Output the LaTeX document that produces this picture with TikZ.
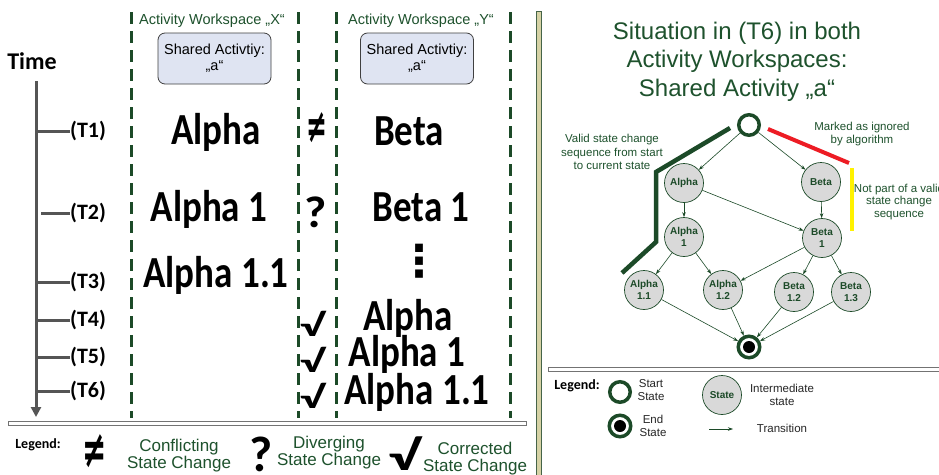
\documentclass[tikz,border=0pt]{standalone}
\usepackage{fontspec}
\usepackage{graphicx}
\setmainfont{Liberation Sans}
\newfontfamily\calfont{Carlito}
\newfontfamily\dejafont{DejaVu Sans}
\usetikzlibrary{arrows.meta}
\definecolor{dkgreen}{RGB}{28,74,40}
\definecolor{txtgreen}{RGB}{30,82,45}
\definecolor{nodefill}{RGB}{217,217,217}
\definecolor{boxfill}{RGB}{223,228,242}
\definecolor{axisgray}{RGB}{85,85,85}
\definecolor{divfill}{RGB}{214,210,165}
\definecolor{divline}{RGB}{70,100,72}
\definecolor{ignred}{RGB}{237,28,36}
\definecolor{notyellow}{RGB}{255,242,0}
\newcommand\tallbox[1]{\scalebox{1}[1.2]{#1}}
\tikzset{
  bigtxt/.style={font=\calfont\bfseries\fontsize{37}{40}\selectfont, inner sep=0pt, anchor=base},
  symtxt/.style={font=\calfont\bfseries\fontsize{37}{40}\selectfont, inner sep=0pt},
  hdr/.style={font=\fontsize{14.5}{16}\selectfont, text=txtgreen, inner sep=0pt},
  sharebox/.style={draw=black!75, fill=boxfill, rounded corners=7pt, minimum width=113pt, minimum height=51pt, align=center, font=\fontsize{14.5}{16}\selectfont, line width=0.8pt, inner sep=0pt},
  tlbl/.style={font=\calfont\bfseries\fontsize{22}{24}\selectfont, anchor=west, inner sep=0pt},
  axis/.style={draw=axisgray, line width=3pt},
  wsline/.style={draw=dkgreen, line width=3pt, dash pattern=on 12pt off 7pt},
  legtitle/.style={font=\calfont\bfseries\fontsize{14}{16}\selectfont, inner sep=0pt},
  leggreen/.style={font=\fontsize{17}{17}\selectfont, text=txtgreen, align=center, inner sep=0pt},
  st/.style={circle, draw=dkgreen, fill=nodefill, line width=0.7pt, minimum size=39pt, inner sep=0pt, align=center, font=\bfseries\fontsize{10}{12.5}\selectfont, text=dkgreen},
  startst/.style={circle, draw=dkgreen, fill=white, line width=3.5pt, minimum size=20.5pt, inner sep=0pt},
  endst/.style={circle, draw=dkgreen, fill=white, line width=3.5pt, minimum size=21.5pt, inner sep=0pt},
  tr/.style={draw=dkgreen, line width=0.6pt, -{Stealth[length=5pt,width=3.5pt]}},
  lbl/.style={font=\fontsize{11.5}{13.5}\selectfont, text=txtgreen, align=center, inner sep=0pt},
  legtxt/.style={font=\fontsize{11.5}{13}\selectfont, align=center, inner sep=0pt, text=black!85},
}
\begin{document}
\begin{tikzpicture}[x=1pt,y=-1pt]
\useasboundingbox (0,0) rectangle (939,474);
\fill[white] (0,0) rectangle (939,474);
% divider
\draw[draw=divline, fill=divfill, line width=0.8pt] (536.5,11) rectangle (541.5,480);
% separators
\draw[draw=black!55, fill=white, line width=0.8pt] (8,421.5) rectangle (526,425.5);
\draw[draw=black!55, fill=white, line width=0.8pt] (548,367) rectangle (945,371);
% workspace dashed lines
\foreach \xx in {131,298,336,510} \draw[wsline] (\xx,12) -- (\xx,418);
% headers
\node[hdr] (hx) at (212,20.5) {Activity Workspace „X“};
\node[hdr] (hy) at (421,20.5) {Activity Workspace „Y“};
\node[sharebox] (bx) at (214.5,58.5) {Shared Activtiy:\\„a“};
\node[sharebox] (by) at (417,58.5) {Shared Activtiy:\\„a“};
% time axis
\node[font=\calfont\bfseries\fontsize{24}{26}\selectfont, inner sep=0pt] (time) at (32,61) {Time};
\coordinate (ttop) at (36,81);
\coordinate (tbot) at (36,417);
\draw[axis, -{Triangle[length=10pt,width=10pt]}] (ttop) -- (tbot);
\node[tlbl] (t1) at (70,131) {(T1)};
\node[tlbl] (t2) at (70,213) {(T2)};
\node[tlbl] (t3) at (70,282) {(T3)};
\node[tlbl] (t4) at (70,320) {(T4)};
\node[tlbl] (t5) at (70,357) {(T5)};
\node[tlbl] (t6) at (70,391) {(T6)};
\coordinate (a1) at (36,131); \coordinate (a2) at (41,213); \coordinate (a3) at (36,282);
\coordinate (a4) at (36,320); \coordinate (a5) at (36,357); \coordinate (a6) at (36,391);
\foreach \i in {1,...,6} \draw[axis] (a\i) -- (t\i.west);
% states
\node[bigtxt] (xa) at (216,144) {\tallbox{Alpha}};
\node[bigtxt] (ya) at (409,145) {\tallbox{Beta}};
\node[bigtxt] (xb) at (209,221) {\tallbox{Alpha 1}};
\node[bigtxt] (yb) at (421,221) {\tallbox{Beta 1}};
\node[bigtxt] (xc) at (216,287) {\tallbox{Alpha 1.1}};
\node[font=\dejafont\bfseries\fontsize{44}{46}\selectfont, inner sep=0pt] (ydots) at (419,261) {⋮};
\node[bigtxt] (yd) at (408,330) {\tallbox{Alpha}};
\node[bigtxt] (ye) at (407,366) {\tallbox{Alpha 1}};
\node[bigtxt] (yf) at (417,404) {\tallbox{Alpha 1.1}};
% symbols
\node[font=\dejafont\bfseries\fontsize{25}{27}\selectfont, inner sep=0pt] (s1) at (317,128) {\scalebox{1}[1.9]{≠}};
\node[symtxt] (s2) at (316,212) {\scalebox{1.3}[1.2]{?}};
\node[symtxt] (s4) at (312,324) {\scalebox{1.35}[0.85]{√}};
\node[symtxt] (s5) at (312,360) {\scalebox{1.35}[0.85]{√}};
\node[symtxt] (s6) at (312,396) {\scalebox{1.35}[0.85]{√}};
% left legend
\node[legtitle] (leg1) at (38,445) {Legend:};
\node[font=\dejafont\bfseries\fontsize{29}{31}\selectfont, inner sep=0pt] (lneq) at (95,451) {\scalebox{1}[1.8]{≠}};
\node[leggreen] (lconf) at (179,455.5) {Conflicting\\State Change};
\node[font=\calfont\bfseries\fontsize{50}{52}\selectfont, inner sep=0pt, anchor=base] (lq) at (261,471) {?};
\node[leggreen] (ldiv) at (329,453) {Diverging\\State Change};
\node[font=\calfont\bfseries\fontsize{40}{42}\selectfont, inner sep=0pt] (lv) at (404,454) {\scalebox{1.6}[1.05]{√}};
\node[leggreen] (lcor) at (475,459) {Corrected\\State Change};
% right panel title
\node[font=\fontsize{24}{28.5}\selectfont, text=txtgreen, align=center, inner sep=0pt] (title) at (737,61.5) {Situation in (T6) in both\\Activity Workspaces:\\Shared Activity „a“};
% highlight paths
\draw[dkgreen, line width=4.5pt] (730,128) -- (656,172) -- (656,242) -- (622,273);
\draw[ignred, line width=4pt] (768,129) -- (849,163);
\draw[notyellow, line width=4pt] (852,168) -- (852,231);
% graph
\node[startst] (start) at (749,125) {};
\node[st] (alpha) at (684,183) {Alpha};
\node[st] (beta) at (821,182) {Beta};
\node[st] (alpha1) at (684,237) {Alpha\\1};
\node[st] (beta1) at (822,238) {Beta\\1};
\node[st] (alpha11) at (644,290) {Alpha\\1.1};
\node[st] (alpha12) at (723,290) {Alpha\\1.2};
\node[st] (beta12) at (794,292) {Beta\\1.2};
\node[st] (beta13) at (851,292) {Beta\\1.3};
\node[endst] (end) at (749,347) {};
\fill[black] (end.center) circle (6);
\draw[tr] (start) -- (alpha);
\draw[tr] (start) -- (beta);
\draw[tr] (alpha) -- (alpha1);
\draw[tr] (alpha) -- (beta1);
\draw[tr] (beta) -- (beta1);
\draw[tr] (alpha1) -- (alpha11);
\draw[tr] (alpha1) -- (alpha12);
\draw[tr] (beta1) -- (alpha12);
\draw[tr] (beta1) -- (beta12);
\draw[tr] (beta1) -- (beta13);
\draw[tr] (alpha11) -- (end);
\draw[tr] (alpha12) -- (end);
\draw[tr] (beta12) -- (end);
\draw[tr] (beta13) -- (end);
% labels
\node[lbl] (validlbl) at (612,152) {Valid state change\\sequence from start\\to current state};
\node[lbl] (ignlbl) at (862,134) {Marked as ignored\\by algorithm};
\node[lbl, font=\fontsize{11.5}{12.5}\selectfont] (notlbl) at (899,202) {Not part of a valid\\state change\\sequence};
% right legend
\node[legtitle, text=black] (leg2) at (577,386) {Legend:};
\node[startst] (lstart) at (620,392) {};
\node[legtxt] (lstarttxt) at (651,390.5) {Start\\State};
\node[endst] (lend) at (620,426) {};
\fill[black] (lend.center) circle (6);
\node[legtxt] (lendtxt) at (653,425.5) {End\\State};
\node[st, font=\bfseries\fontsize{10}{12}\selectfont] (lstate) at (722,395) {State};
\node[legtxt] (lstatetxt) at (782,395) {Intermediate\\state};
\coordinate (ta) at (709,429);
\coordinate (tb) at (733,429);
\draw[tr] (ta) -- (tb);
\node[legtxt] (ltrans) at (782,428) {Transition};
\end{tikzpicture}
\end{document}
